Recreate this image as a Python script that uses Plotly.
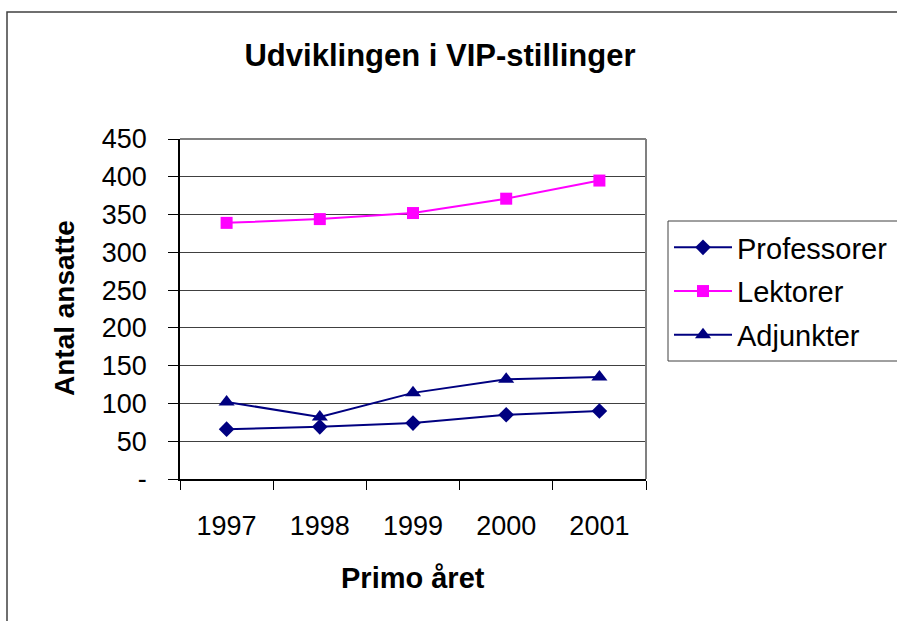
import plotly.graph_objects as go

years = ["1997", "1998", "1999", "2000", "2001"]
professorer = [66, 69, 74, 85, 90]
lektorer = [339, 344, 352, 371, 395]
adjunkter = [102, 82, 114, 132, 135]

ytick_vals = [0, 50, 100, 150, 200, 250, 300, 350, 400, 450]
ytick_text = ["-", "50", "100", "150", "200", "250", "300", "350", "400", "450"]

FONT = "Liberation Sans, Arial, sans-serif"
NAVY = "#000080"
MAGENTA = "#FF00FF"

fig = go.Figure()
fig.add_trace(go.Scatter(x=years, y=professorer, name="Professorer", mode="lines+markers",
                         legendgroup="a",
                         line=dict(color=NAVY, width=2),
                         marker=dict(symbol="diamond", size=12, color=NAVY)))
fig.add_trace(go.Scatter(x=years, y=lektorer, name="Lektorer", mode="lines+markers",
                         legendgroup="b",
                         line=dict(color=MAGENTA, width=2),
                         marker=dict(symbol="square", size=12, color=MAGENTA)))
fig.add_trace(go.Scatter(x=years, y=adjunkter, name="Adjunkter", mode="lines+markers",
                         legendgroup="c",
                         line=dict(color=NAVY, width=2),
                         marker=dict(symbol="triangle-up", size=14, color=NAVY)))

L, R, T, B = 180, 646, 139, 479
W, H = 897, 621
pw, ph = R - L, B - T

def px(x):
    return (x - L) / pw

def py(y):
    return (B - y) / ph

fig.update_layout(
    width=W, height=H,
    margin=dict(l=L, r=W - R, t=T, b=H - B, pad=0, autoexpand=False),
    paper_bgcolor="white", plot_bgcolor="white",
    font=dict(family=FONT, color="black", size=27),
    title=dict(text="<b>Udviklingen i VIP-stillinger</b>", x=px(440), xref="paper",
               xanchor="center", y=1 - 55 / H, yanchor="middle",
               font=dict(size=31, family=FONT, color="black")),
    xaxis=dict(type="category", tickson="boundaries", ticks="outside", ticklen=9,
               tickcolor="black", tickwidth=1, showline=True, linecolor="black",
               linewidth=1.5, showgrid=False, range=[-0.5, 4.5],
               ticklabelstandoff=22,
               tickfont=dict(size=27, family=FONT)),
    yaxis=dict(range=[0, 450], tickvals=ytick_vals, ticktext=ytick_text,
               ticks="outside", ticklen=10, tickcolor="black", tickwidth=1,
               showline=True, linecolor="black", linewidth=1.5,
               showgrid=True, gridcolor="#404040", gridwidth=1, zeroline=False,
               ticklabelstandoff=16,
               tickfont=dict(size=27, family=FONT)),
    legend=dict(x=px(669), y=py(222), xanchor="left", yanchor="top",
                borderwidth=0, bgcolor="rgba(0,0,0,0)",
                font=dict(size=29, family=FONT), tracegroupgap=3,
                itemwidth=58, traceorder="grouped"),
    showlegend=True,
)

# Axis titles placed as annotations
fig.add_annotation(text="<b>Antal ansatte</b>", xref="paper", yref="paper",
                   x=px(64), y=py(308), xanchor="center", yanchor="middle",
                   textangle=-90, showarrow=False,
                   font=dict(size=28, family=FONT, color="black"))
fig.add_annotation(text="<b>Primo året</b>", xref="paper", yref="paper",
                   x=px(413), y=py(578), xanchor="center", yanchor="middle",
                   showarrow=False,
                   font=dict(size=29, family=FONT, color="black"))

# Gray top and right borders of the plot area
fig.add_shape(type="line", xref="paper", yref="paper", x0=0, x1=1, y0=1, y1=1,
              line=dict(color="#808080", width=2))
fig.add_shape(type="line", xref="paper", yref="paper", x0=1, x1=1, y0=0, y1=1,
              line=dict(color="#808080", width=2))
# Outer chart frame
fig.add_shape(type="rect", xref="paper", yref="paper",
              x0=px(7), x1=px(1000), y0=py(700), y1=py(12),
              line=dict(color="#404040", width=1.5), layer="below")
# Legend frame (extends past the right edge, as in the source)
fig.add_shape(type="rect", xref="paper", yref="paper",
              x0=px(668), x1=px(1000), y0=py(361), y1=py(221),
              line=dict(color="#404040", width=1), layer="below")

fig.write_html("out.html", config={"displayModeBar": False},
               post_script="document.body.style.margin='0';")
